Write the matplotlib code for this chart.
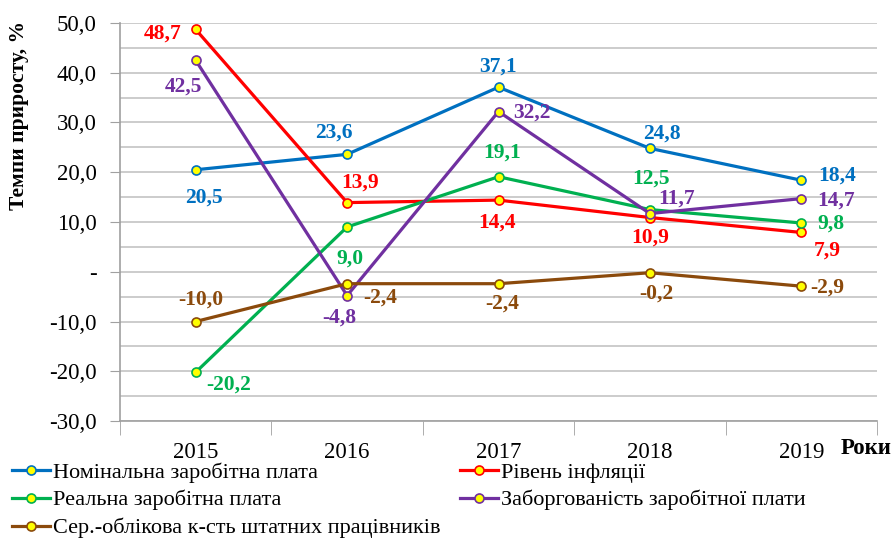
import matplotlib
matplotlib.use("Agg")
import matplotlib.pyplot as plt
from matplotlib.ticker import FixedLocator, MultipleLocator, FuncFormatter

plt.rcParams['font.family'] = ['Liberation Serif', 'DejaVu Serif']

years = ['2015', '2016', '2017', '2018', '2019']
nominal = [20.5, 23.6, 37.1, 24.8, 18.4]
inflation = [48.7, 13.9, 14.4, 10.9, 7.9]
real = [-20.2, 9.0, 19.1, 12.5, 9.8]
arrears = [42.5, -4.8, 32.2, 11.7, 14.7]
staff = [-10.0, -2.4, -2.4, -0.2, -2.9]

names = ['Номінальна заробітна плата', 'Рівень інфляції', 'Реальна заробітна плата',
         'Заборгованість заробітної плати', 'Сер.-облікова к-сть штатних працівників']
colors = ['#0070C0', '#FF0000', '#00B050', '#7030A0', '#8B4A0C']
series = [nominal, inflation, real, arrears, staff]

# label offsets in pixels (dx, dy downward positive)
offsets = [
    [(8, 28), (-13, -22), (0, -21), (12, -15), (36, -5)],
    [(-33, 4), (13, -20), (-2, 22), (0, 20), (26, 18)],
    [(33, 12), (3, 32), (4, -24), (1, -31), (30, 1)],
    [(-12, 26), (-8, 22), (33, 1), (27, -15), (35, 2)],
    [(5, -22), (33, 14), (4, 20), (6, 21), (26, 1)],
]

fig = plt.figure(figsize=(8.96, 5.42), dpi=100)
ax = fig.add_axes([120/896, 1-421/542, (877-120)/896, (421-23)/542])

x = list(range(len(years)))
for ys, c, name, offs in zip(series, colors, names, offsets):
    ax.plot(x, ys, color=c, lw=2.3, marker='o', ms=6.5, mfc='#FFFF00',
            mec=c, mew=1.2, label=name, zorder=3)
    for xi, yi, (dx, dy) in zip(x, ys, offs):
        ax.annotate(f'{yi:.1f}'.replace('.', ','), (xi, yi), xytext=(dx, -dy),
                    textcoords='offset pixels', ha='center', va='center',
                    color=c, fontsize=15.5, fontweight='bold', zorder=4)

ax.set_xlim(-0.5, len(years) - 0.5)
ax.set_ylim(-30, 50)
ax.yaxis.set_major_locator(MultipleLocator(10))
ax.yaxis.set_minor_locator(MultipleLocator(5))
ax.yaxis.set_major_formatter(FuncFormatter(
    lambda v, p: '-' if abs(v) < 1e-9 else f'{v:.1f}'.replace('.', ',')))
ax.grid(True, which='both', axis='y', color='#C8C8C8', lw=1.3, zorder=0)
ax.tick_params(axis='y', which='minor', length=0)
ax.tick_params(axis='y', which='major', length=7, color='#A0A0A0', labelsize=16.5, pad=10)

ax.xaxis.set_major_locator(FixedLocator(x))
ax.set_xticklabels(years)
ax.xaxis.set_minor_locator(FixedLocator([i - 0.5 for i in range(len(years) + 1)]))
ax.tick_params(axis='x', which='major', length=0, labelsize=16.5, pad=15)
ax.tick_params(axis='x', which='minor', length=10, color='#A0A0A0')

for s in ['top', 'right']:
    ax.spines[s].set_visible(False)
for s in ['left', 'bottom']:
    ax.spines[s].set_color('#A0A0A0')
    ax.spines[s].set_linewidth(1.2)

ax.set_ylabel('Темпи приросту, %', fontsize=15.5, fontweight='bold')
ax.yaxis.set_label_coords((29 - 120) / 757, (421 - 115) / 398)
fig.text(866/896, 1-449/542, 'Роки', fontsize=16.5, fontweight='bold', ha='center', va='center')

h, l = ax.get_legend_handles_labels()
leg_kw = dict(frameon=False, prop={'family': ['Liberation Serif'], 'size': 16},
              handlelength=1.7, handletextpad=0.15,
              labelspacing=0.33, borderpad=0, borderaxespad=0)
fig.legend([h[0], h[2], h[4]], [l[0], l[2], l[4]], loc='upper left',
           bbox_to_anchor=(12/896, 1-462/542), **leg_kw)
fig.legend([h[1], h[3]], [l[1], l[3]], loc='upper left',
           bbox_to_anchor=(460/896, 1-462/542), **leg_kw)

fig.savefig('out.png', dpi=100)
